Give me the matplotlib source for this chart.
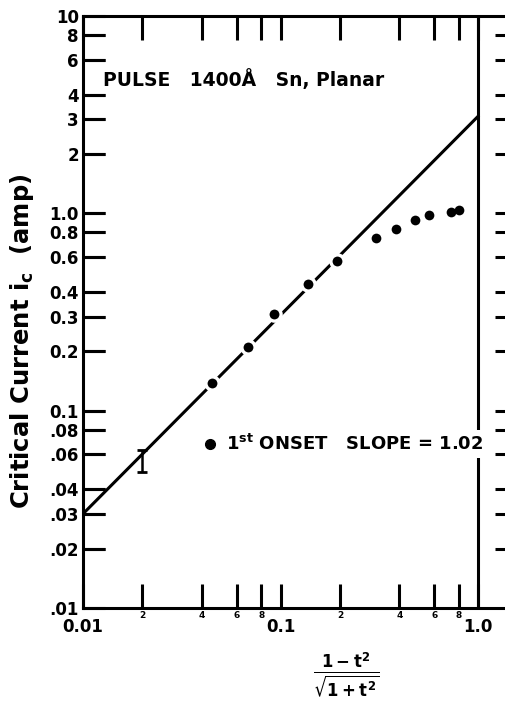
import matplotlib
matplotlib.use("Agg")
import matplotlib.pyplot as plt
from matplotlib.ticker import NullLocator

plt.rcParams['font.family'] = ['DejaVu Sans']
plt.rcParams['font.weight'] = 'bold'
plt.rcParams['mathtext.default'] = 'bf'

# data
onset_x = [0.0448, 0.0687, 0.093, 0.137, 0.193, 0.305, 0.383, 0.482, 0.565, 0.73, 0.80]
onset_y = [0.138, 0.210, 0.310, 0.437, 0.575, 0.746, 0.835, 0.921, 0.977, 1.02, 1.036]
n_on_line = 5  # first points sit on the fit line

err_x = [0.02]
err_lo = [0.049]
err_hi = [0.063]

fit_x = [0.01, 1.0]
fit_y = [0.03, 3.1]

y_ticks = [10, 8, 6, 4, 3, 2, 1.0, 0.8, 0.6, 0.4, 0.3, 0.2, 0.1, 0.08, 0.06, 0.04, 0.03, 0.02, 0.01]
y_labels = ['10', '8', '6', '4', '3', '2', '1.0', '0.8', '0.6', '0.4', '0.3', '0.2', '0.1',
            '.08', '.06', '.04', '.03', '.02', '.01']
x_major = [0.01, 0.1, 1.0]
x_major_labels = ['0.01', '0.1', '1.0']
x_minor = [0.02, 0.04, 0.06, 0.08, 0.2, 0.4, 0.6, 0.8]
x_minor_labels = ['2', '4', '6', '8', '2', '4', '6', '8']

fig = plt.figure(figsize=(5.06, 7.07), dpi=100)
ax = fig.add_axes([83 / 506, 99 / 707, 423 / 506, 592 / 707])
ax.set_xscale('log')
ax.set_yscale('log')
ax.set_xlim(0.01, 1.386)
ax.set_ylim(0.01, 10)

lw = 2.2
for s in ['left', 'top', 'bottom']:
    ax.spines[s].set_linewidth(lw)
ax.spines['right'].set_visible(False)

ax.set_yticks(y_ticks, y_labels)
ax.yaxis.set_minor_locator(NullLocator())
ax.set_xticks(x_major, x_major_labels)
ax.set_xticks(x_minor, x_minor_labels, minor=True)
ax.tick_params(axis='x', which='both', direction='in', length=17, width=lw, top=True, bottom=True)
ax.tick_params(axis='y', which='major', direction='in', length=16, width=lw, left=True, right=False,
               labelsize=12, pad=3)
ax.tick_params(axis='x', which='major', labelsize=12, pad=7)
ax.tick_params(axis='x', which='minor', labelsize=6.5, pad=2)

# left tick marks drawn as short lines too (axes-x, data-y)
ytrans = ax.get_yaxis_transform()
for v in y_ticks[1:-1]:
    ax.plot([0, 22 / 423], [v, v], color='black', lw=lw, solid_capstyle='butt',
            transform=ytrans, clip_on=False)

# neighbouring panel's ticks showing at the right edge
for v in y_ticks[1:-1]:
    ax.plot([1.22, 1.386], [v, v], color='black', lw=lw, solid_capstyle='butt', clip_on=False)

ax.axvline(1.0, color='black', lw=lw, zorder=1)

ax.plot(fit_x, fit_y, color='black', lw=lw, zorder=2)
ax.plot(onset_x[:n_on_line], onset_y[:n_on_line], 'o', color='black', ms=9.5,
        mec='white', mew=2.4, zorder=3)
ax.plot(onset_x[n_on_line:], onset_y[n_on_line:], 'o', color='black', ms=7, mew=0, zorder=3)

mid = [(a * b) ** 0.5 for a, b in zip(err_lo, err_hi)]
ax.errorbar(err_x, mid, yerr=[[m - a for m, a in zip(mid, err_lo)], [b - m for m, b in zip(mid, err_hi)]],
            fmt='none', ecolor='black', elinewidth=1.8, capsize=3.5, capthick=2, zorder=3)

ax.text(0.047, 0.892, 'PULSE   1400Å   Sn, Planar', transform=ax.transAxes,
        fontsize=13.5, va='center', ha='left')

ax.plot([0.300], [0.277], 'o', color='black', ms=7, transform=ax.transAxes)
ax.text(0.338, 0.277, '1$^{st}$ ONSET   SLOPE = 1.02', transform=ax.transAxes,
        fontsize=13, va='center', ha='left', zorder=4,
        bbox=dict(facecolor='white', edgecolor='none', pad=3))

fig.text(22 / 506, 1 - 341 / 707, 'Critical Current $\\mathregular{i_c}$  (amp)', rotation=90,
         fontsize=17.5, ha='center', va='center')
fig.text(346 / 506, 1 - 675 / 707, r'$\frac{1-t^2}{\sqrt{1+t^2}}$', fontsize=17,
         ha='center', va='center')

fig.savefig('out.png', dpi=100)
